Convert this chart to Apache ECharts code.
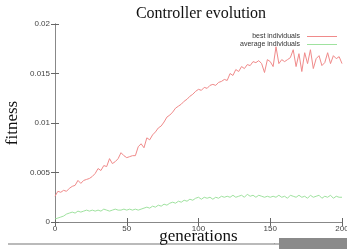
<!DOCTYPE html>
<html>
<head>
<meta charset="utf-8">
<script src="https://cdn.jsdelivr.net/npm/echarts@6/dist/echarts.min.js"></script>
<style>
  html, body { margin: 0; padding: 0; background: #fff; }
  #chart { width: 347px; height: 249px; }
</style>
</head>
<body>
<div id="chart"></div>
<script>
// generations 0..200, sampled every 2
var genStep = 2;
var xTicks = [0, 50, 100, 150, 200];
var yTicks = [0, 0.005, 0.01, 0.015, 0.02];

var bestIndividuals = [
  0.0026, 0.0031, 0.0030, 0.0032, 0.0031, 0.0034, 0.0036, 0.0037, 0.0042, 0.0039,
  0.0042, 0.0043, 0.0044, 0.0046, 0.0049, 0.0054, 0.0052, 0.0057, 0.0056, 0.0064,
  0.0059, 0.0061, 0.0064, 0.0070, 0.0067, 0.0065, 0.0066, 0.0067, 0.0067, 0.0076,
  0.0079, 0.0075, 0.0085, 0.0083, 0.0088, 0.0091, 0.0095, 0.0097, 0.0101, 0.0106,
  0.0108, 0.0111, 0.0115, 0.0117, 0.0119, 0.0122, 0.0124, 0.0127, 0.0129, 0.0132,
  0.0134, 0.0133, 0.0136, 0.0135, 0.0138, 0.0139, 0.0138, 0.0141, 0.0142, 0.0144,
  0.0143, 0.0150, 0.0148, 0.0154, 0.0152, 0.0157, 0.0155, 0.0159, 0.0158, 0.0162,
  0.0161, 0.0163, 0.0160, 0.0151, 0.0164, 0.0162, 0.0157, 0.0177, 0.0160, 0.0164,
  0.0162, 0.0164, 0.0166, 0.0174, 0.0157, 0.0170, 0.0152, 0.0171, 0.0160, 0.0174,
  0.0155, 0.0165, 0.0168, 0.0158, 0.0161, 0.0171, 0.0160, 0.0168, 0.0165, 0.0167,
  0.0160
];

var averageIndividuals = [
  0.0003, 0.0004, 0.0005, 0.0006, 0.0008, 0.0009, 0.0010, 0.0009, 0.0011, 0.0010,
  0.0011, 0.0012, 0.0011, 0.0012, 0.0011, 0.0012, 0.0011, 0.0013, 0.0012, 0.0011,
  0.0012, 0.0013, 0.0012, 0.0012, 0.0013, 0.0012, 0.0013, 0.0012, 0.0013, 0.0012,
  0.0013, 0.0014, 0.0015, 0.0014, 0.0016, 0.0015, 0.0017, 0.0016, 0.0018, 0.0017,
  0.0019, 0.0020, 0.0019, 0.0021, 0.0020, 0.0022, 0.0021, 0.0023, 0.0022, 0.0024,
  0.0025, 0.0023, 0.0025, 0.0024, 0.0025, 0.0023, 0.0025, 0.0024, 0.0026, 0.0025,
  0.0026, 0.0025, 0.0027, 0.0025, 0.0026, 0.0027, 0.0025, 0.0028, 0.0026, 0.0027,
  0.0025, 0.0027, 0.0026, 0.0025, 0.0026, 0.0025, 0.0026, 0.0025, 0.0027, 0.0025,
  0.0026, 0.0024, 0.0027, 0.0026, 0.0025, 0.0027, 0.0025, 0.0026, 0.0024, 0.0027,
  0.0025, 0.0026, 0.0027, 0.0024, 0.0026, 0.0025, 0.0027, 0.0024, 0.0026, 0.0025,
  0.0025
];

function pairs(arr) {
  return arr.map(function (v, i) { return [i * genStep, v]; });
}

var myChart = echarts.init(document.getElementById('chart'));

var tickFont = { fontSize: 8, color: '#444', fontFamily: 'Liberation Sans' };
var boxLine = { lineStyle: { color: '#888', width: 1 } };

var option = {
  animation: false,
  backgroundColor: '#fff',
  title: {
    text: 'Controller evolution',
    left: 196,
    textAlign: 'center',
    top: 1,
    textStyle: { fontFamily: 'Liberation Serif', fontWeight: 'normal', fontSize: 16, color: '#111' }
  },
  legend: {
    orient: 'vertical',
    right: 5,
    top: 28,
    align: 'right',
    itemWidth: 30,
    itemHeight: 1,
    itemGap: 1,
    icon: 'rect',
    textStyle: { fontSize: 7, color: '#333', fontFamily: 'Liberation Sans', padding: [0, 2, 0, 0] },
    data: ['best individuals', 'average individuals']
  },
  grid: { left: 55, right: 5, top: 24, bottom: 27, containLabel: false, outerBoundsMode: 'none' },
  xAxis: [{
    type: 'value',
    min: 0, max: 200, interval: 50,
    axisLine: boxLine,
    axisTick: { inside: true, length: 4, lineStyle: { color: '#666' } },
    axisLabel: Object.assign({ margin: 3, formatter: function (v) { return xTicks.indexOf(v) >= 0 ? String(v) : ''; } }, tickFont),
    splitLine: { show: false },
    name: 'generations',
    nameLocation: 'middle',
    nameGap: 6,
    nameMoveOverlap: false,
    nameTextStyle: { fontFamily: 'Liberation Serif', fontSize: 17, color: '#111', verticalAlign: 'top' }
  }, {
    type: 'value',
    position: 'top',
    min: 0, max: 200, interval: 50,
    axisLine: boxLine,
    axisTick: { inside: true, length: 4, lineStyle: { color: '#666' } },
    axisLabel: { show: false },
    splitLine: { show: false }
  }],
  yAxis: [{
    type: 'value',
    min: 0, max: 0.02, interval: 0.005,
    axisLine: { show: true, lineStyle: { color: '#888', width: 1 } },
    axisTick: { show: true, inside: true, length: 4, lineStyle: { color: '#666' } },
    axisLabel: Object.assign({ margin: 5, formatter: function (v) {
      var t = yTicks.filter(function (y) { return Math.abs(y - v) < 1e-9; });
      return t.length ? String(t[0]) : '';
    } }, tickFont),
    splitLine: { show: false },
    name: 'fitness',
    nameLocation: 'middle',
    nameGap: 34,
    nameMoveOverlap: false,
    nameRotate: 90,
    nameTextStyle: { fontFamily: 'Liberation Serif', fontSize: 17, color: '#111' }
  }, {
    type: 'value',
    position: 'right',
    min: 0, max: 0.02, interval: 0.005,
    axisLine: { show: true, lineStyle: { color: '#888', width: 1 } },
    axisTick: { show: true, inside: true, length: 4, lineStyle: { color: '#666' } },
    axisLabel: { show: false },
    splitLine: { show: false }
  }],
  series: [{
    name: 'best individuals',
    type: 'line',
    data: pairs(bestIndividuals),
    showSymbol: false,
    color: '#f08a8a',
    lineStyle: { width: 1, color: '#f08a8a' }
  }, {
    name: 'average individuals',
    type: 'line',
    data: pairs(averageIndividuals),
    showSymbol: false,
    color: '#9fe29f',
    lineStyle: { width: 1, color: '#9fe29f' }
  }],
  graphic: [
    { type: 'rect', shape: { x: 8, y: 243.5, width: 272, height: 1 }, style: { fill: '#777' }, z: -1 },
    { type: 'rect', shape: { x: 279, y: 238, width: 68, height: 11 }, style: { fill: '#8a8a8a' } },
    { type: 'rect', shape: { x: 274, y: 243, width: 1, height: 1 }, style: { fill: '#999' } }
  ]
};

myChart.setOption(option);
</script>
</body>
</html>
